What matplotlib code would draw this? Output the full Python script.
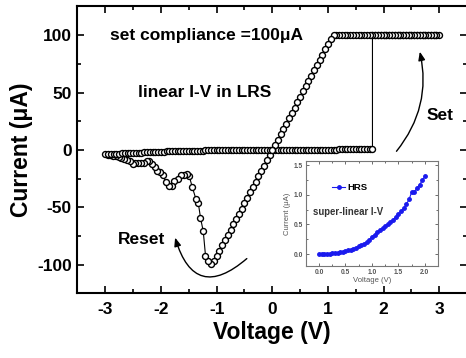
import matplotlib
matplotlib.use('Agg')
import matplotlib.pyplot as plt
from matplotlib.ticker import MultipleLocator

plt.rcParams['font.family'] = ['Liberation Sans', 'DejaVu Sans']
plt.rcParams['font.weight'] = 'bold'
plt.rcParams['axes.unicode_minus'] = False

# HRS sweep 0 -> 2 V (inset), also the start of the set sweep in the main plot
hrs_v = [0.00, 0.05, 0.10, 0.15, 0.20, 0.25, 0.30, 0.35, 0.40, 0.45,
         0.50, 0.55, 0.60, 0.65, 0.70, 0.75, 0.80, 0.85, 0.90, 0.95,
         1.00, 1.05, 1.10, 1.15, 1.20, 1.25, 1.30, 1.35, 1.40, 1.45,
         1.50, 1.55, 1.60, 1.65, 1.70, 1.75, 1.80, 1.85, 1.90, 1.95, 2.00]
hrs_i = [0.000, 0.002, 0.004, 0.007, 0.010, 0.014, 0.019, 0.025, 0.032, 0.040,
         0.050, 0.062, 0.076, 0.092, 0.110, 0.130, 0.152, 0.178, 0.205, 0.245,
         0.290, 0.330, 0.365, 0.405, 0.440, 0.475, 0.505, 0.540, 0.580, 0.625,
         0.670, 0.720, 0.770, 0.840, 0.920, 1.045, 1.050, 1.110, 1.170, 1.240, 1.310]

# compliance plateau: 1.8 -> 3 V and back to 1.1 V
comp_v = [1.80, 1.85, 1.90, 1.95, 2.00, 2.05, 2.10, 2.15, 2.20, 2.25,
          2.30, 2.35, 2.40, 2.45, 2.50, 2.55, 2.60, 2.65, 2.70, 2.75,
          2.80, 2.85, 2.90, 2.95, 3.00,
          2.95, 2.90, 2.85, 2.80, 2.75, 2.70, 2.65, 2.60, 2.55, 2.50,
          2.45, 2.40, 2.35, 2.30, 2.25, 2.20, 2.15, 2.10, 2.05, 2.00,
          1.95, 1.90, 1.85, 1.80, 1.75, 1.70, 1.65, 1.60, 1.55, 1.50,
          1.45, 1.40, 1.35, 1.30, 1.25, 1.20, 1.15, 1.10]
comp_i = [100, 100, 100, 100, 100, 100, 100, 100, 100, 100,
          100, 100, 100, 100, 100, 100, 100, 100, 100, 100,
          100, 100, 100, 100, 100,
          100, 100, 100, 100, 100, 100, 100, 100, 100, 100,
          100, 100, 100, 100, 100, 100, 100, 100, 100, 100,
          100, 100, 100, 100, 100, 100, 100, 100, 100, 100,
          100, 100, 100, 100, 100, 100, 100, 100]

# linear LRS branch 1.05 -> -1.05 V
lrs_v = [1.05, 1.00, 0.95, 0.90, 0.85, 0.80, 0.75, 0.70, 0.65, 0.60,
         0.55, 0.50, 0.45, 0.40, 0.35, 0.30, 0.25, 0.20, 0.15, 0.10,
         0.05, 0.00, -0.05, -0.10, -0.15, -0.20, -0.25, -0.30, -0.35, -0.40,
         -0.45, -0.50, -0.55, -0.60, -0.65, -0.70, -0.75, -0.80, -0.85, -0.90,
         -0.95, -1.00, -1.05]
lrs_i = [97.0, 92.5, 88.0, 83.0, 78.5, 74.0, 69.5, 64.5, 60.0, 55.5,
         51.0, 46.0, 41.5, 37.0, 32.5, 27.5, 23.0, 18.5, 14.0, 9.0,
         4.5, 0.0, -4.5, -9.0, -14.0, -18.5, -23.0, -27.5, -32.5, -37.0,
         -41.5, -46.0, -51.0, -55.5, -60.0, -64.5, -69.5, -74.0, -78.5, -83.0,
         -88.0, -92.5, -97.0]

# reset region -1.1 -> -3 V
reset_v = [-1.10, -1.15, -1.20, -1.24, -1.29, -1.33, -1.37, -1.44, -1.49, -1.54,
           -1.59, -1.64, -1.70, -1.76, -1.81, -1.85, -1.91, -1.97, -2.02, -2.07,
           -2.11, -2.16, -2.21, -2.26, -2.31, -2.36, -2.41, -2.46, -2.51, -2.56,
           -2.61, -2.66, -2.71, -2.76, -2.81, -2.86, -2.91, -2.96, -3.00]
reset_i = [-99, -97, -92, -71, -59, -46, -43, -32, -23, -21,
           -22, -22, -25, -27, -31, -31, -28, -22, -19, -18,
           -15, -12, -10, -10, -11, -11, -11, -11, -12, -10,
           -9, -8, -7, -6, -5.5, -5, -4.5, -4, -3.8]

# return sweep -3 -> 0 V (HRS)
back_v = [-2.95, -2.90, -2.85, -2.80, -2.75, -2.70, -2.65, -2.60, -2.55, -2.50,
          -2.45, -2.40, -2.35, -2.30, -2.25, -2.20, -2.15, -2.10, -2.05, -2.00,
          -1.95, -1.90, -1.85, -1.80, -1.75, -1.70, -1.65, -1.60, -1.55, -1.50,
          -1.45, -1.40, -1.35, -1.30, -1.25, -1.20, -1.15, -1.10, -1.05, -1.00,
          -0.95, -0.90, -0.85, -0.80, -0.75, -0.70, -0.65, -0.60, -0.55, -0.50,
          -0.45, -0.40, -0.35, -0.30, -0.25, -0.20, -0.15, -0.10, -0.05, 0.00]
back_i = [-3.7, -3.6, -3.45, -3.3, -3.2, -3.05, -2.95, -2.8, -2.7, -2.55,
          -2.45, -2.3, -2.2, -2.1, -2.0, -1.9, -1.8, -1.7, -1.6, -1.5,
          -1.4, -1.3, -1.25, -1.15, -1.1, -1.0, -0.95, -0.85, -0.8, -0.75,
          -0.7, -0.6, -0.55, -0.5, -0.45, -0.4, -0.38, -0.35, -0.3, -0.28,
          -0.25, -0.22, -0.2, -0.17, -0.15, -0.13, -0.11, -0.09, -0.08, -0.06,
          -0.05, -0.04, -0.03, -0.02, -0.015, -0.01, -0.007, -0.004, -0.002, 0.0]

xticks = [-3, -2, -1, 0, 1, 2, 3]
yticks = [-100, -50, 0, 50, 100]

fig = plt.figure(figsize=(4.66, 3.58), dpi=100)
ax = fig.add_axes([0.1663, 0.1802, 0.836, 0.8017])

sweep_v = hrs_v[:37] + comp_v + lrs_v + reset_v + back_v
sweep_i = hrs_i[:37] + comp_i + lrs_i + reset_i + back_i
ax.plot(sweep_v, sweep_i, '-o', color='black', lw=0.8, ms=4.3, mfc='white',
        mec='black', mew=1.0)

ax.set_xlim(-3.5, 3.5)
ax.set_ylim(-125, 125)
ax.set_xticks(xticks)
ax.set_yticks(yticks)
ax.xaxis.set_minor_locator(MultipleLocator(0.5))
ax.yaxis.set_minor_locator(MultipleLocator(25))
ax.tick_params(which='both', direction='in', top=True, right=True, width=1.2,
               labelsize=12.5)
ax.tick_params(which='major', length=5)
ax.tick_params(which='minor', length=3)
ax.tick_params(axis='x', pad=6)
ax.tick_params(axis='y', pad=4)
for s in ax.spines.values():
    s.set_linewidth(1.5)
ax.set_xlabel('Voltage (V)', fontsize=16.5, fontweight='bold', labelpad=3)
ax.set_ylabel('Current (\u03bcA)', fontsize=16.5, fontweight='bold', labelpad=3)

ax.text(-2.91, 100, 'set compliance =100\u03bcA', fontsize=12.5, va='center')
ax.text(-2.42, 50, 'linear I-V in LRS', fontsize=12.5, va='center')
ax.text(2.78, 30, 'Set', fontsize=12.5, va='center')
ax.text(-2.78, -78, 'Reset', fontsize=12.5, va='center')

ax.annotate('', xy=(-1.76, -74), xytext=(-0.42, -93),
            arrowprops=dict(arrowstyle='-|>,head_length=0.5,head_width=0.2',
                            connectionstyle='arc3,rad=-0.8', color='black', lw=1))
ax.annotate('', xy=(2.64, 88), xytext=(2.2, -3),
            arrowprops=dict(arrowstyle='-|>,head_length=0.5,head_width=0.2',
                            connectionstyle='arc3,rad=0.25', color='black', lw=1))

# inset
axin = fig.add_axes([0.6567, 0.257, 0.283, 0.293])
axin.plot(hrs_v, hrs_i, '-o', color='#1a1aee', lw=0.8, ms=2.5, label='HRS')
axin.set_xlim(-0.245, 2.245)
axin.set_ylim(-0.2, 1.566)
axin.set_xticks([0.0, 0.5, 1.0, 1.5, 2.0])
axin.set_yticks([0.0, 0.5, 1.0, 1.5])
axin.xaxis.set_minor_locator(MultipleLocator(0.25))
axin.yaxis.set_minor_locator(MultipleLocator(0.25))
axin.tick_params(which='both', direction='in', top=True, right=True, width=0.6,
                 labelsize=4.8, colors='#555555', pad=2)
axin.tick_params(which='major', length=2.5)
axin.tick_params(which='minor', length=1.5)
for s in axin.spines.values():
    s.set_linewidth(0.8)
    s.set_color('#777777')
axin.set_xlabel('Voltage (V)', fontsize=5.5, color='#555555', labelpad=1)
axin.set_ylabel('Current (\u03bcA)', fontsize=5.5, color='#555555', labelpad=2)
axin.text(-0.11, 0.71, 'super-linear I-V', fontsize=6.9, va='center', color='#333333')
axin.legend(loc='center left', bbox_to_anchor=(0.2, 0.75), frameon=False,
            fontsize=6.8, handlelength=1.3, handletextpad=0.3, borderpad=0,
            borderaxespad=0, markerscale=1)

fig.savefig('out.png', dpi=100)
